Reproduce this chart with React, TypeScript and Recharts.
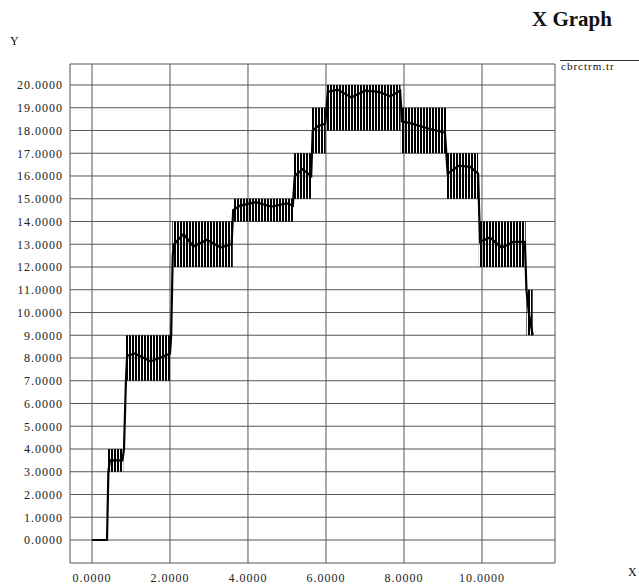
import React from "react";
import {
  LineChart,
  Line,
  XAxis,
  YAxis,
  CartesianGrid,
  ReferenceArea,
} from "recharts";

// plateaus: signal toggles between low and high level inside each one
const bandStart = [0.41, 0.86, 2.06, 3.62, 5.18, 5.64, 6.0, 7.92, 9.1, 9.92, 11.14];
const bandEnd = [0.8, 2.0, 3.61, 5.16, 5.63, 5.99, 7.91, 9.09, 9.9, 11.12, 11.3];
const bandLow = [3, 7, 12, 14, 15, 17, 18, 17, 15, 12, 9];
const bandHigh = [4, 9, 14, 15, 17, 19, 20, 19, 17, 14, 11];

// the dark mean trace running through the plateaus
const midX = [
  0, 0.385, 0.42, 0.46, 0.78, 0.82, 0.87, 0.9, 1.1, 1.5, 1.8, 2.0, 2.03, 2.07,
  2.1, 2.35, 2.6, 2.95, 3.3, 3.58, 3.62, 3.8, 4.2, 4.6, 5.0, 5.15, 5.2, 5.4,
  5.62, 5.66, 5.8, 5.98, 6.05, 6.3, 6.65, 7.0, 7.35, 7.65, 7.9, 7.95, 8.2, 8.6,
  9.05, 9.12, 9.4, 9.7, 9.9, 9.95, 10.2, 10.5, 10.8, 11.1, 11.14, 11.2, 11.3,
];
const midY = [
  0, 0, 3.0, 3.5, 3.5, 4.0, 7.0, 8.1, 8.2, 7.85, 8.05, 8.2, 9.0, 12.5,
  13.0, 13.45, 12.9, 13.2, 12.85, 13.0, 14.5, 14.7, 14.85, 14.65, 14.8, 14.7, 16.0, 16.3,
  16.0, 18.0, 18.2, 18.3, 19.7, 19.8, 19.45, 19.75, 19.7, 19.5, 19.75, 18.4, 18.3, 18.1,
  17.9, 16.1, 16.45, 16.4, 16.1, 13.1, 13.3, 12.85, 13.1, 13.1, 11.0, 10.0, 9.0,
];

const xTicks = [0, 2, 4, 6, 8, 10];
const yTicks = [0, 1, 2, 3, 4, 5, 6, 7, 8, 9, 10, 11, 12, 13, 14, 15, 16, 17, 18, 19, 20];

const trace = midX.map((x, i) => ({ x, y: midY[i] }));

const serif = "'Liberation Serif', 'Times New Roman', serif";
const tickStyle = { fontSize: 12, fill: "#222", fontFamily: serif, letterSpacing: 1 };

export default function App() {
  return (
    <div
      style={{
        position: "fixed",
        left: 0,
        top: 0,
        width: 639,
        height: 585,
        background: "#fff",
        fontFamily: serif,
        color: "#111",
      }}
    >
      <div style={{ position: "absolute", left: 532, top: 7, fontSize: 21, fontWeight: "bold" }}>
        X Graph
      </div>
      <div style={{ position: "absolute", left: 10, top: 34, fontSize: 12 }}>Y</div>
      <div style={{ position: "absolute", left: 628, top: 565, fontSize: 12 }}>X</div>
      <div
        style={{
          position: "absolute",
          left: 560,
          top: 60,
          width: 79,
          borderTop: "1.5px solid #333",
        }}
      />
      <div
        style={{
          position: "absolute",
          left: 561,
          top: 60,
          fontSize: 11,
          letterSpacing: 1,
        }}
      >
        cbrctrm.tr
      </div>
      <div style={{ position: "absolute", left: 0, top: 0 }}>
        <LineChart
          width={639}
          height={585}
          data={trace}
          margin={{ top: 64, right: 84, bottom: 2, left: 10 }}
        >
          <defs>
            <pattern id="stripes" patternUnits="userSpaceOnUse" width={3} height={10}>
              <rect x={0} y={0} width={2} height={10} fill="#000" />
            </pattern>
          </defs>
          <CartesianGrid stroke="#555" strokeWidth={1} />
          <XAxis
            dataKey="x"
            type="number"
            domain={[-0.5641, 11.872]}
            allowDataOverflow
            ticks={xTicks}
            tickFormatter={(v: number) => v.toFixed(4)}
            axisLine={false}
            tickLine={false}
            tickSize={0}
            tickMargin={10}
            height={20}
            tick={tickStyle}
            interval={0}
          />
          <YAxis
            type="number"
            domain={[-1.011, 20.923]}
            allowDataOverflow
            ticks={yTicks}
            tickFormatter={(v: number) => v.toFixed(4)}
            axisLine={false}
            tickLine={false}
            tickSize={0}
            tickMargin={7}
            width={60}
            tick={tickStyle}
            interval={0}
          />
          {bandStart.map((s, i) => (
            <ReferenceArea
              key={i}
              x1={s}
              x2={bandEnd[i]}
              y1={bandLow[i]}
              y2={bandHigh[i]}
              fill="url(#stripes)"
              fillOpacity={1}
              stroke="none"
            />
          ))}
          <Line
            type="linear"
            dataKey="y"
            stroke="#000"
            strokeWidth={2.2}
            dot={false}
            isAnimationActive={false}
          />
        </LineChart>
      </div>
    </div>
  );
}
